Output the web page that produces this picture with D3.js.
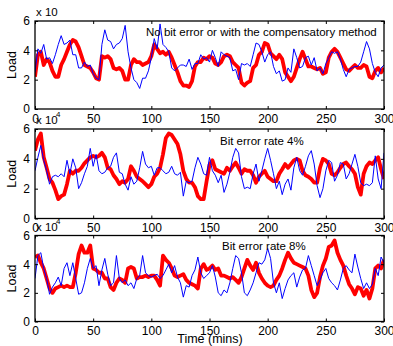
<!DOCTYPE html>
<html>
<head>
<meta charset="utf-8">
<script src="https://cdn.jsdelivr.net/npm/d3@7"></script>
<style>
  body { margin: 0; background: #fff; }
  svg text { font-family: "Liberation Sans", Arial, sans-serif; fill: #000; }
</style>
</head>
<body>
<div id="chart"></div>
<script>
// time axis, one sample every 2.5 mins
var times = d3.range(0, 301, 2.5);
var xTicks = [0, 50, 100, 150, 200, 250, 300];
var yTicks = [0, 2, 4, 6];
var titles = ["No bit error or with the compensatory method", "Bit error rate 4%", "Bit error rate 8%"];

// load (x 10^4), red = thick series, blue = thin series
var red1 = [2.2,3.7,3.9,3.0,3.4,3.2,2.6,2.2,2.2,3.0,3.4,3.9,4.4,4.7,4.6,4.2,3.6,3.0,2.9,2.8,2.5,2.1,2.0,3.6,3.5,3.6,3.4,2.8,2.7,2.8,2.6,2.0,2.0,3.0,3.4,3.2,3.2,3.0,3.1,3.2,3.6,4.4,4.1,3.8,3.9,3.7,3.9,3.5,3.0,2.5,1.9,1.6,1.6,1.5,1.9,2.9,3.2,3.2,3.5,3.4,3.6,3.5,3.1,3.0,3.2,3.6,3.7,3.6,3.2,3.0,2.8,1.8,1.6,1.8,1.9,2.8,3.0,3.7,3.9,4.5,4.4,3.8,3.6,3.4,3.7,3.4,2.5,2.2,1.9,2.2,2.8,3.4,3.9,3.4,2.9,2.9,2.8,2.7,2.8,2.4,2.5,3.5,3.9,4.1,3.9,3.5,3.1,2.7,2.6,2.8,3.0,2.8,2.8,3.0,2.9,2.2,2.1,2.6,2.8,2.5,2.8];
var blue1 = [2.5,4.1,3.8,4.4,3.4,3.5,3.1,3.7,4.4,5.0,4.4,4.5,4.7,3.7,3.7,2.8,2.8,3.2,2.9,3.0,2.4,2.1,2.0,4.4,5.4,4.7,4.6,4.1,4.4,4.5,4.8,5.7,3.9,2.8,2.0,1.8,1.4,2.1,2.1,2.6,3.5,4.8,4.1,5.8,4.4,4.2,3.9,2.8,2.6,2.8,3.0,3.0,2.9,3.4,2.7,3.1,3.1,3.7,3.4,3.5,3.2,4.0,3.5,2.9,3.9,3.7,3.6,3.5,2.6,2.7,2.0,3.1,3.0,3.1,2.9,3.7,4.5,4.4,3.9,3.2,3.7,3.9,2.9,2.4,2.6,1.9,2.0,2.8,2.5,4.1,3.5,2.8,2.9,3.5,3.6,3.0,3.5,2.6,2.8,2.4,3.1,3.5,3.9,3.8,3.9,3.4,2.7,2.2,2.7,2.8,2.9,2.9,3.2,3.9,4.6,4.1,3.1,2.5,2.2,2.8,3.0];
var red2 = [4.55,5.3,5.7,4.1,3.4,2.65,2.4,1.9,1.3,1.5,1.6,2.3,3.2,3.0,3.2,3.2,3.4,3.7,3.9,4.1,4.2,4.1,4.2,4.4,4.1,3.4,3.3,2.9,2.65,2.3,2.5,2.4,2.65,3.5,3.2,2.8,2.65,2.5,2.3,2.1,2.3,2.8,3.0,3.4,4.3,5.4,5.7,5.6,5.3,5.0,4.3,3.2,2.65,2.4,2.4,2.1,1.5,1.3,1.3,2.5,3.6,3.9,3.3,3.2,3.1,3.0,3.4,3.2,3.5,3.75,3.4,3.0,3.3,3.2,3.2,2.9,2.4,2.8,3.0,3.2,2.8,2.65,2.5,2.5,3.0,3.3,3.65,3.4,3.65,3.9,4.0,3.9,3.2,2.9,2.8,2.65,2.4,2.4,3.4,4.0,3.9,3.65,3.0,2.9,3.1,3.4,3.65,3.75,3.5,3.3,3.0,2.1,1.6,3.0,3.5,3.75,3.65,3.9,4.1,3.3,2.65];
var blue2 = [3.2,4.1,4.9,3.9,3.2,2.3,2.8,2.9,2.8,3.0,2.8,3.9,3.0,4.0,3.4,2.0,2.4,3.0,3.5,4.7,3.5,4.3,3.2,3.0,3.1,3.4,3.5,4.1,4.4,3.1,3.0,2.3,1.9,2.8,2.3,2.5,3.4,4.5,3.65,3.4,3.5,2.9,3.4,3.4,3.2,3.0,3.1,3.5,3.0,2.9,3.1,1.5,2.5,2.4,2.5,3.4,4.1,3.65,3.0,2.9,4.1,3.2,2.9,2.4,2.9,1.75,2.3,3.1,4.1,4.7,4.4,2.8,2.0,2.1,2.0,3.0,3.65,2.5,3.2,4.0,4.7,3.9,3.0,2.0,2.5,1.6,2.3,2.65,1.9,3.4,4.1,3.2,2.9,3.5,4.2,4.55,3.65,2.2,1.4,2.0,3.2,3.9,3.75,2.5,2.9,3.75,3.65,2.65,3.0,3.65,4.3,3.5,2.4,2.2,2.3,2.2,2.4,4.2,2.65,2.0,4.4];
var red3 = [4.5,4.6,4.1,3.7,3.0,2.3,2.0,2.3,2.4,2.5,2.4,2.5,2.4,2.4,3.4,4.7,5.3,4.8,4.8,5.3,3.7,3.6,3.4,3.4,3.0,3.0,2.4,2.2,2.7,3.0,2.9,2.7,3.7,3.8,3.7,3.0,3.1,3.1,3.2,3.1,3.2,3.2,2.9,2.5,4.6,4.3,4.1,3.7,3.2,3.1,3.2,3.3,2.9,2.7,2.6,2.5,2.3,3.7,4.0,3.6,3.7,3.9,3.6,3.7,3.2,3.2,3.1,3.0,3.1,2.9,2.7,3.1,3.7,4.3,3.9,3.6,4.1,3.4,3.0,2.7,2.5,2.4,2.5,2.9,3.2,3.7,4.3,4.8,4.4,4.1,4.0,3.9,3.8,3.7,3.2,2.2,1.7,2.0,3.1,3.9,4.4,5.2,5.3,5.65,4.8,4.3,3.9,3.2,2.6,2.3,1.9,2.4,2.3,1.8,2.2,1.6,2.3,3.7,3.9,3.7,4.3];
var blue3 = [3.0,4.6,4.8,3.7,3.0,1.9,2.4,2.7,3.1,2.5,3.7,4.1,3.2,4.1,3.0,1.9,2.0,2.7,3.7,4.4,3.7,3.9,2.5,3.6,4.4,3.3,2.5,2.7,4.6,3.0,2.7,2.9,2.5,2.7,2.3,3.0,3.2,4.6,3.4,3.2,3.1,3.2,3.3,3.0,3.2,3.6,4.0,3.4,3.9,3.1,2.7,1.7,2.5,2.4,3.2,3.6,4.5,3.4,3.0,3.2,3.4,3.9,3.1,2.0,1.8,2.2,2.0,2.7,3.7,4.6,4.4,3.4,2.0,1.8,2.2,2.7,3.4,4.1,4.0,4.3,5.1,4.4,2.7,2.0,2.7,1.6,2.3,2.9,3.2,3.4,2.4,3.1,3.6,3.7,4.6,3.9,3.2,2.5,2.9,3.4,3.7,3.0,2.7,2.5,2.2,2.9,3.7,3.9,3.6,3.4,4.7,3.8,3.0,2.3,2.7,2.3,2.6,3.7,3.2,4.5,4.1];

var panels = [
  {red: red1, blue: blue1, top: 21, bottom: 109, title: titles[0], tx: 146, ty: 36, exp: false},
  {red: red2, blue: blue2, top: 129, bottom: 218.5, title: titles[1], tx: 220, ty: 145, exp: true},
  {red: red3, blue: blue3, top: 235.5, bottom: 321.5, title: titles[2], tx: 222, ty: 250, exp: true}
];

var width = 393, height = 346;
var left = 35, right = 384;

var svg = d3.select("#chart")
  .append("svg")
  .attr("width", width)
  .attr("height", height);

var xScale = d3.scaleLinear().domain([0, 300]).range([left, right]);

panels.forEach(function(p, i) {
  var yScale = d3.scaleLinear().domain([0, 6]).range([p.bottom, p.top]);
  var g = svg.append("g");

  // clip lines to the plot box
  g.append("clipPath").attr("id", "clip" + i)
    .append("rect")
    .attr("x", left).attr("y", p.top)
    .attr("width", right - left).attr("height", p.bottom - p.top);

  var line = d3.line()
    .x(function(d, j) { return xScale(times[j]); })
    .y(function(d) { return yScale(d); });

  var lines = g.append("g").attr("clip-path", "url(#clip" + i + ")");
  lines.append("path")
    .datum(p.red)
    .attr("d", line)
    .attr("fill", "none")
    .attr("stroke", "#ff0000")
    .attr("stroke-width", 3.8)
    .attr("stroke-linejoin", "round");
  lines.append("path")
    .datum(p.blue)
    .attr("d", line)
    .attr("fill", "none")
    .attr("stroke", "#0000ff")
    .attr("stroke-width", 1);

  // axes, matlab style: ticks inside on every side
  var xb = g.append("g")
    .attr("transform", "translate(0," + p.bottom + ")")
    .call(d3.axisBottom(xScale).tickValues(xTicks).tickFormat(d3.format("d")).tickSizeInner(-3).tickSizeOuter(0).tickPadding(5));
  var xt = g.append("g")
    .attr("transform", "translate(0," + p.top + ")")
    .call(d3.axisTop(xScale).tickValues(xTicks).tickSizeInner(-3).tickSizeOuter(0).tickFormat(""));
  var yl = g.append("g")
    .attr("transform", "translate(" + left + ",0)")
    .call(d3.axisLeft(yScale).tickValues(yTicks).tickFormat(d3.format("d")).tickSizeInner(-3).tickSizeOuter(0).tickPadding(5));
  var yr = g.append("g")
    .attr("transform", "translate(" + right + ",0)")
    .call(d3.axisRight(yScale).tickValues(yTicks).tickSizeInner(-3).tickSizeOuter(0).tickFormat(""));

  [xb, xt, yl, yr].forEach(function(a) {
    a.select(".domain").remove();
    a.selectAll("line").attr("stroke", "#000");
    a.selectAll("text").style("font-size", "12px").attr("fill", "#000");
  });

  g.append("rect")
    .attr("x", left).attr("y", p.top)
    .attr("width", right - left).attr("height", p.bottom - p.top)
    .attr("fill", "none")
    .attr("stroke", "#000")
    .attr("stroke-width", 1.3);

  g.append("text")
    .attr("transform", "translate(16," + (p.top + p.bottom) / 2 + ") rotate(-90)")
    .attr("text-anchor", "middle")
    .style("font-size", "12.5px")
    .text("Load");

  g.append("text")
    .attr("x", p.tx).attr("y", p.ty)
    .style("font-size", "11.5px")
    .text(p.title);

  g.append("text")
    .attr("x", left + 1).attr("y", p.top - 5)
    .style("font-size", "11.5px")
    .text("x 10");
  if (p.exp) {
    g.append("text")
      .attr("x", left + 21).attr("y", p.top - 12)
      .style("font-size", "8px")
      .text("4");
  }
});

svg.append("text")
  .attr("x", 210).attr("y", 343)
  .attr("text-anchor", "middle")
  .style("font-size", "12.5px")
  .text("Time (mins)");
</script>
</body>
</html>
